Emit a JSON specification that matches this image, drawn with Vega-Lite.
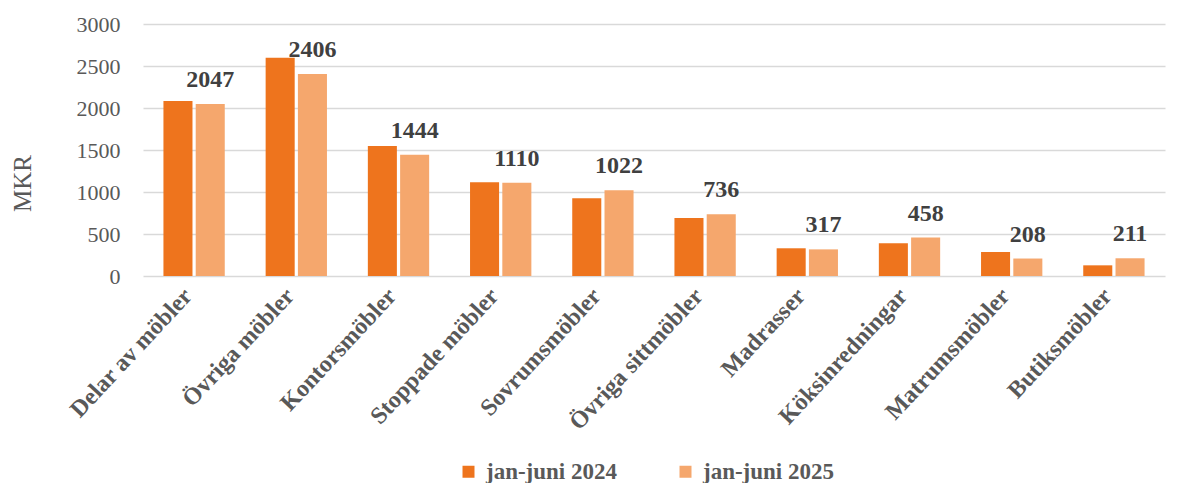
{
  "$schema": "https://vega.github.io/schema/vega-lite/v6.json",
  "width": 1022,
  "height": 252,
  "autosize": {"type": "none"},
  "padding": {"left": 143, "top": 24, "right": 17, "bottom": 207},
  "background": "white",
  "config": {
    "view": {"stroke": null},
    "font": "Liberation Serif"
  },
  "data": {
    "values": [
      {"kategori": "Delar av möbler", "period": "jan-juni 2024", "mkr": 2083},
      {"kategori": "Delar av möbler", "period": "jan-juni 2025", "mkr": 2047},
      {"kategori": "Övriga möbler", "period": "jan-juni 2024", "mkr": 2599},
      {"kategori": "Övriga möbler", "period": "jan-juni 2025", "mkr": 2406},
      {"kategori": "Kontorsmöbler", "period": "jan-juni 2024", "mkr": 1548},
      {"kategori": "Kontorsmöbler", "period": "jan-juni 2025", "mkr": 1444},
      {"kategori": "Stoppade möbler", "period": "jan-juni 2024", "mkr": 1115},
      {"kategori": "Stoppade möbler", "period": "jan-juni 2025", "mkr": 1110},
      {"kategori": "Sovrumsmöbler", "period": "jan-juni 2024", "mkr": 925},
      {"kategori": "Sovrumsmöbler", "period": "jan-juni 2025", "mkr": 1022},
      {"kategori": "Övriga sittmöbler", "period": "jan-juni 2024", "mkr": 690},
      {"kategori": "Övriga sittmöbler", "period": "jan-juni 2025", "mkr": 736},
      {"kategori": "Madrasser", "period": "jan-juni 2024", "mkr": 330},
      {"kategori": "Madrasser", "period": "jan-juni 2025", "mkr": 317},
      {"kategori": "Köksinredningar", "period": "jan-juni 2024", "mkr": 389},
      {"kategori": "Köksinredningar", "period": "jan-juni 2025", "mkr": 458},
      {"kategori": "Matrumsmöbler", "period": "jan-juni 2024", "mkr": 286},
      {"kategori": "Matrumsmöbler", "period": "jan-juni 2025", "mkr": 208},
      {"kategori": "Butiksmöbler", "period": "jan-juni 2024", "mkr": 127},
      {"kategori": "Butiksmöbler", "period": "jan-juni 2025", "mkr": 211}
    ]
  },
  "encoding": {
    "x": {
      "field": "kategori",
      "type": "nominal",
      "sort": null,
      "scale": {"paddingInner": 0.4, "paddingOuter": 0.2},
      "axis": {
        "title": null,
        "labelAngle": -47,
        "labelAlign": "right",
        "labelBaseline": "middle",
        "labelFont": "Liberation Serif",
        "labelFontWeight": "bold",
        "labelFontSize": 24,
        "labelColor": "#595959",
        "labelPadding": 16,
        "labelOffset": -6,
        "labelLimit": 400,
        "labelOverlap": false,
        "ticks": false,
        "domain": false
      }
    },
    "xOffset": {
      "field": "period",
      "type": "nominal",
      "scale": {"paddingInner": 0.1}
    },
    "y": {
      "field": "mkr",
      "type": "quantitative",
      "scale": {"domain": [0, 3000], "nice": false},
      "axis": {
        "title": "MKR",
        "values": [0, 500, 1000, 1500, 2000, 2500, 3000],
        "format": "d",
        "labelFont": "Liberation Serif",
        "labelFontSize": 22,
        "labelColor": "#595959",
        "labelPadding": 23,
        "ticks": false,
        "domain": false,
        "grid": true,
        "gridColor": "#d9d9d9",
        "gridWidth": 1.5,
        "titleFont": "Liberation Serif",
        "titleFontSize": 25,
        "titleFontWeight": "normal",
        "titleColor": "#595959",
        "titleX": -121,
        "titleY": 159,
        "titleAngle": -90,
        "titleAlign": "center",
        "titleBaseline": "middle"
      }
    }
  },
  "layer": [
    {
      "mark": {"type": "bar"},
      "encoding": {
        "color": {
          "field": "period",
          "type": "nominal",
          "scale": {"domain": ["jan-juni 2024", "jan-juni 2025"], "range": ["#EE741D", "#F5A76D"]},
          "legend": {
            "title": null,
            "orient": "none",
            "direction": "horizontal",
            "legendX": 314,
            "legendY": 436,
            "symbolType": "square",
            "symbolSize": 144,
            "symbolStrokeWidth": 0,
            "labelFont": "Liberation Serif",
            "labelFontWeight": "bold",
            "labelFontSize": 23,
            "labelColor": "#595959",
            "labelOffset": 6,
            "columnPadding": 57,
            "labelLimit": 300
          }
        }
      }
    },
    {
      "transform": [{"filter": "datum.period === 'jan-juni 2025'"}],
      "mark": {
        "type": "text",
        "font": "Liberation Serif",
        "fontWeight": "bold",
        "fontSize": 24,
        "color": "#404040",
        "baseline": "alphabetic",
        "dy": -17
      },
      "encoding": {
        "text": {"field": "mkr", "type": "quantitative"}
      }
    }
  ]
}
